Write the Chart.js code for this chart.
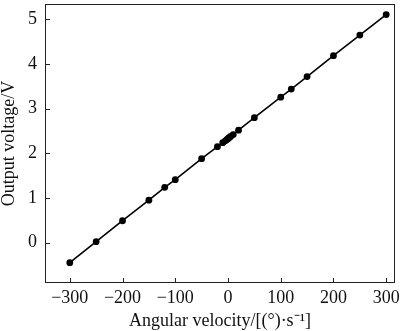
<!DOCTYPE html>
<html>
<head>
<meta charset="utf-8">
<script src="https://cdn.jsdelivr.net/npm/chart.js@4/dist/chart.umd.min.js"></script>
<style>
  html, body { margin: 0; padding: 0; background: #fff; }
  #wrap { width: 400px; height: 331px; }
</style>
</head>
<body>
<div id="wrap"><canvas id="chart" width="400" height="331"></canvas></div>
<script>
// angular velocity (deg/s) and measured output voltage (V)
const velocity = [-300, -250, -200, -150, -120, -100, -50, -20, -10, -5, -2, 0, 2, 5, 10, 20, 50, 100, 120, 150, 200, 250, 300];
const voltage = [-0.45, 0.02, 0.49, 0.95, 1.24, 1.41, 1.88, 2.15, 2.24, 2.28, 2.31, 2.33, 2.35, 2.38, 2.42, 2.52, 2.80, 3.26, 3.44, 3.72, 4.19, 4.65, 5.11];
const xTicks = [-300, -200, -100, 0, 100, 200, 300];
const yTicks = [0, 1, 2, 3, 4, 5];

const FONT = "'Liberation Serif', 'Times New Roman', serif";
const $ = id => document.getElementById(id);

// box around the plot plus short inward tick marks
const frame = {
  id: 'frame',
  afterDraw(chart) {
    const { ctx, chartArea: a, scales } = chart;
    ctx.save();
    ctx.strokeStyle = '#222';
    ctx.lineWidth = 1;
    ctx.strokeRect(a.left + 0.5, a.top + 0.5, a.right - a.left - 1, a.bottom - a.top - 1);
    ctx.beginPath();
    xTicks.forEach(v => {
      const x = Math.round(scales.x.getPixelForValue(v)) + 0.5;
      ctx.moveTo(x, a.bottom); ctx.lineTo(x, a.bottom - 5);
    });
    yTicks.forEach(v => {
      const y = Math.round(scales.y.getPixelForValue(v)) + 0.5;
      ctx.moveTo(a.left, y); ctx.lineTo(a.left + 5, y);
    });
    ctx.stroke();
    ctx.restore();
  }
};

new Chart($('chart'), {
  type: 'scatter',
  data: {
    datasets: [{
      data: velocity.map((v, i) => ({ x: v, y: voltage[i] })),
      showLine: true,
      borderColor: '#000',
      borderWidth: 1.6,
      backgroundColor: '#000',
      pointRadius: 3.4,
      pointBorderWidth: 0
    }]
  },
  options: {
    responsive: false,
    animation: false,
    layout: { padding: { top: 0, right: 5, left: 0, bottom: 0 } },
    plugins: { legend: { display: false }, tooltip: { enabled: false } },
    scales: {
      x: {
        type: 'linear', min: -347, max: 316.7,
        afterBuildTicks: s => { s.ticks = xTicks.map(v => ({ value: v })); },
        afterFit: s => { s.height = 48; s.paddingLeft = 0; s.paddingRight = 0; },
        grid: { display: false, drawTicks: false },
        border: { display: false },
        ticks: {
          padding: 4, color: '#111', font: { family: FONT, size: 18 },
          callback: v => String(v).replace('-', '\u2212')
        },
        title: {
          display: true, text: 'Angular velocity/[(°)·s⁻¹]', color: '#111',
          font: { family: FONT, size: 18 }, padding: { top: 0, bottom: -1 }
        }
      },
      y: {
        type: 'linear', min: -0.905, max: 5.347,
        afterBuildTicks: s => { s.ticks = yTicks.map(v => ({ value: v })); },
        afterFit: s => { s.width = 45; s.paddingTop = 0; s.paddingBottom = 0; },
        grid: { display: false, drawTicks: false },
        border: { display: false },
        ticks: { padding: 8, color: '#111', font: { family: FONT, size: 18 } },
        title: {
          display: true, text: 'Output voltage/V', color: '#111',
          font: { family: FONT, size: 18 }, padding: { top: -2, bottom: 0 }
        }
      }
    }
  },
  plugins: [frame]
});
</script>
</body>
</html>
